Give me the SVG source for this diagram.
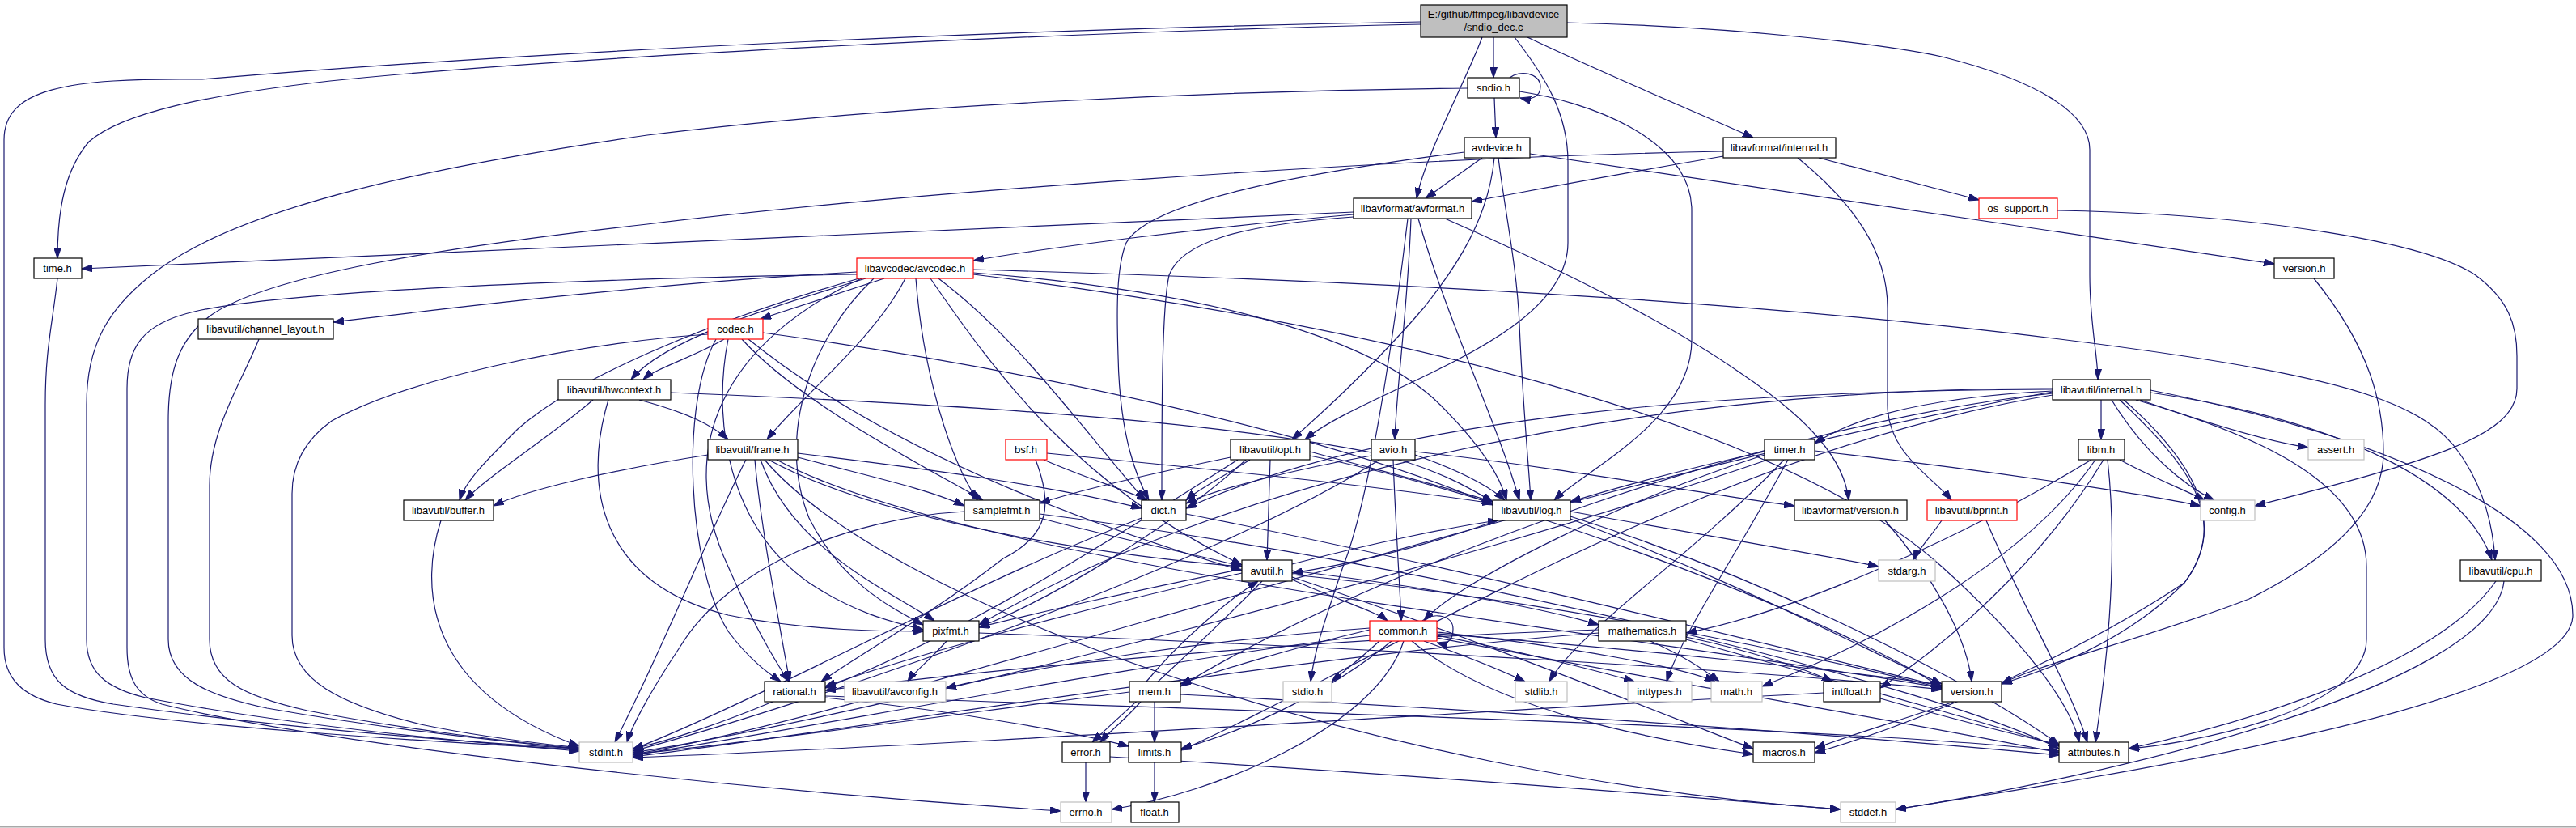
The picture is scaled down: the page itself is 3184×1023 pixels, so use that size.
<svg xmlns="http://www.w3.org/2000/svg" width="3184" height="1023" viewBox="0 0 3184 1023">
<style>
.n rect{fill:#fff;stroke:#000;stroke-width:1.2}
.r rect{stroke:#f00}
.g rect{stroke:#bfbfbf}
.m rect{fill:#bfbfbf}
text{font-family:"Liberation Sans",Arial,sans-serif;font-size:13px;text-anchor:middle;fill:#000}
#edges path{fill:none;stroke:#191970;stroke-width:1.2;marker-end:url(#a)}
</style>
<defs>
<marker id="a" viewBox="0 0 13 9" refX="13" refY="4.5" markerUnits="userSpaceOnUse" markerWidth="13" markerHeight="9" orient="auto">
<path d="M0,0 L13,4.5 L0,9 z" fill="#191970" stroke="#191970"/>
</marker>
</defs>
<rect x="0" y="0" width="3184" height="1023" fill="#fff"/>
<line x1="0" y1="1021.5" x2="3184" y2="1021.5" stroke="#a8a8a8" stroke-width="2"/>
<g id="edges">
<path d="M1846,46 L1846,96"/>
<path d="M1866,96 C1878,86 1904,90 1904,107 C1904,120 1892,124 1879,121"/>
<path d="M1832,46 C1812,100 1762,190 1751,245"/>
<path d="M1872,46 C1910,95 1938,140 1938,200 L1938,300 C1938,420 1690,480 1613,543"/>
<path d="M1888,46 C1980,90 2100,140 2167,170"/>
<path d="M1937,28 C2150,33 2330,55 2400,70 C2520,100 2583,140 2583,185 L2583,340 C2583,400 2593,440 2593,469"/>
<path d="M1756,30 C1300,40 700,70 408,100 C250,118 150,140 110,175 C80,210 71,260 71,319"/>
<path d="M1756,27 C1300,35 700,60 250,98 C80,96 5,110 5,173 L5,800 C5,840 30,860 70,870 C200,895 500,915 716,926"/>
<path d="M1847,121 L1849,170"/>
<path d="M1878,113 C1960,125 2091,170 2091,260 L2091,420 C2091,520 1960,580 1921,618"/>
<path d="M1814,109 C1500,112 1100,130 800,167 C500,210 300,260 200,330 C130,380 107,430 107,500 L107,790 C107,830 130,850 180,862 C350,895 550,915 716,928"/>
<path d="M1832,195 L1762,245"/>
<path d="M1891,190 L2811,326"/>
<path d="M1852,195 C1860,260 1875,330 1878,400 C1882,500 1890,580 1892,618"/>
<path d="M1847,195 C1840,270 1800,330 1760,380 C1700,450 1640,505 1597,543"/>
<path d="M1810,188 C1600,215 1420,250 1392,300 C1380,330 1380,380 1382,440 C1384,540 1405,590 1420,618"/>
<path d="M2130,193 C2000,215 1880,238 1819,249"/>
<path d="M2248,195 L2446,247"/>
<path d="M2222,195 C2290,250 2333,310 2333,380 L2333,500 C2333,560 2390,590 2412,618"/>
<path d="M2130,187 C1700,195 1100,240 800,277 C550,305 330,340 260,390 C220,420 208,460 208,520 L208,790 C208,840 260,860 330,875 C500,905 650,918 716,926"/>
<path d="M2543,260 C2800,265 3000,300 3060,340 C3100,370 3111,400 3111,440 L3111,480 C3111,540 3000,570 2787,625"/>
<path d="M2860,344 C2930,430 2946,500 2946,560 C2946,640 2860,700 2780,740 C2650,790 2520,820 2474,845"/>
<path d="M1673,262 C1300,275 800,298 101,332"/>
<path d="M1673,265 C1500,280 1300,305 1203,322"/>
<path d="M1673,268 C1530,278 1460,300 1445,340 C1436,380 1436,500 1436,618"/>
<path d="M1740,270 C1733,330 1700,600 1660,700 C1640,760 1625,800 1620,842"/>
<path d="M1744,270 C1740,380 1726,480 1724,543"/>
<path d="M1753,270 C1790,400 1850,520 1878,618"/>
<path d="M1786,270 C1900,320 2050,390 2150,460 C2240,520 2280,570 2285,618"/>
<path d="M71,344 C65,400 56,430 56,500 L56,790 C56,840 80,860 140,870 C350,900 550,915 716,925"/>
<path d="M320,419 C300,470 259,530 259,600 L259,790 C259,840 300,860 380,878 C520,905 650,918 716,925"/>
<path d="M1093,344 L940,394"/>
<path d="M1059,336 C800,350 520,385 412,398"/>
<path d="M1070,344 C950,380 820,420 780,469"/>
<path d="M1119,344 C1080,420 990,490 948,543"/>
<path d="M1062,344 C900,390 720,460 640,530 C600,570 575,595 568,618"/>
<path d="M1132,344 C1140,450 1170,560 1208,618"/>
<path d="M1160,344 C1260,420 1330,520 1415,618"/>
<path d="M1203,337 C1500,360 1700,420 1780,500 C1830,550 1855,590 1862,618"/>
<path d="M1150,344 C1230,460 1330,600 1535,698"/>
<path d="M1080,344 C1000,420 960,540 1000,640 C1040,720 1100,750 1141,772"/>
<path d="M1065,344 C900,420 830,550 900,700 C930,770 960,820 975,842"/>
<path d="M1203,339 C1700,400 2200,520 2400,700 C2500,790 2560,870 2570,917"/>
<path d="M1203,333 C1800,350 2300,380 2700,440 C2900,470 3000,500 3040,560 C3075,610 3082,660 3084,692"/>
<path d="M1059,339 C700,345 350,360 240,385 C175,400 157,430 157,480 L157,800 C157,840 170,860 200,870 C400,920 900,975 1311,1002"/>
<path d="M895,419 C860,440 810,455 795,469"/>
<path d="M943,411 C1300,460 1650,540 1845,624"/>
<path d="M875,413 C700,425 500,470 410,520 C375,545 361,575 361,610 L361,785 C361,840 420,870 520,895 C600,912 680,920 716,924"/>
<path d="M885,419 C840,500 850,700 900,780 C930,820 955,835 965,842"/>
<path d="M900,419 C880,520 900,650 1000,720 C1060,760 1110,770 1141,778"/>
<path d="M917,419 C990,500 1150,580 1215,618"/>
<path d="M925,419 C1100,560 1350,650 1535,705"/>
<path d="M733,494 C680,540 600,590 575,618"/>
<path d="M790,494 C850,510 880,525 900,543"/>
<path d="M829,485 C1200,500 1500,520 1700,560 C1780,580 1820,605 1845,620"/>
<path d="M752,494 C720,600 740,720 900,760 C1000,780 1100,780 1141,780"/>
<path d="M2597,494 L2597,543"/>
<path d="M2610,494 C2650,560 2700,600 2737,618"/>
<path d="M2645,494 C2720,520 2800,545 2853,553"/>
<path d="M2658,485 C2900,520 3050,600 3080,692"/>
<path d="M2658,482 C2950,540 3180,640 3180,760 C3180,870 2600,960 2343,1000"/>
<path d="M2640,494 C2800,540 2925,600 2925,700 L2925,790 C2925,880 2700,920 2631,925"/>
<path d="M2625,494 C2700,560 2760,640 2700,720 C2620,800 2520,830 2474,845"/>
<path d="M2620,494 C2700,570 2760,640 2700,720 C2550,820 2350,900 2243,930"/>
<path d="M2537,483 C2400,490 2300,510 2243,548"/>
<path d="M2537,481 C2100,482 1700,520 1466,628"/>
<path d="M2537,480 C2000,478 1500,600 1210,772"/>
<path d="M2537,486 C2200,520 1700,700 1459,848"/>
<path d="M2537,484 C1900,600 1100,880 782,932"/>
<path d="M2537,488 C2100,560 1700,820 1460,927"/>
<path d="M875,562 C760,580 650,605 610,625"/>
<path d="M922,568 C880,650 820,800 760,917"/>
<path d="M933,568 C940,650 965,780 976,842"/>
<path d="M940,568 C980,680 1100,730 1155,767"/>
<path d="M950,568 C1100,650 1400,690 1535,700"/>
<path d="M986,565 C1080,590 1150,605 1192,625"/>
<path d="M986,560 C1150,580 1300,600 1411,628"/>
<path d="M960,568 C1200,700 2000,780 2400,850"/>
<path d="M945,568 C1100,750 1700,960 2275,1000"/>
<path d="M1294,560 C1500,580 1700,600 1845,622"/>
<path d="M1290,568 C1340,590 1390,605 1418,618"/>
<path d="M1280,568 C1300,620 1300,660 1240,690 C1150,760 1060,810 1015,842"/>
<path d="M1521,565 C1400,590 1320,610 1285,622"/>
<path d="M1545,568 C1510,590 1480,605 1466,618"/>
<path d="M1530,568 C1400,650 1200,780 1020,850"/>
<path d="M1570,568 L1566,692"/>
<path d="M1540,568 C1450,650 1300,740 1210,775"/>
<path d="M1619,558 C1700,580 1800,605 1845,620"/>
<path d="M1619,563 C1900,620 2300,780 2400,850"/>
<path d="M1695,563 C1600,580 1500,605 1466,622"/>
<path d="M1749,562 C1800,580 1840,600 1860,618"/>
<path d="M1749,558 C1950,580 2100,610 2218,625"/>
<path d="M1722,568 C1725,650 1730,720 1732,767"/>
<path d="M1705,568 C1500,700 1000,870 782,928"/>
<path d="M2181,558 C2080,580 1990,605 1941,620"/>
<path d="M2243,557 C2450,580 2650,610 2720,625"/>
<path d="M2205,568 C2100,680 1950,780 1915,842"/>
<path d="M2210,568 C2150,680 2080,780 2060,842"/>
<path d="M2181,562 C2000,620 1800,720 1760,767"/>
<path d="M2185,568 C1800,700 1100,880 782,930"/>
<path d="M2620,568 C2660,590 2700,605 2725,618"/>
<path d="M2590,568 C2500,700 2300,800 2178,848"/>
<path d="M2585,568 C2400,680 2200,760 2084,782"/>
<path d="M2600,568 C2520,700 2400,800 2324,850"/>
<path d="M2605,568 C2620,700 2600,850 2590,917"/>
<path d="M545,643 C520,720 520,850 716,922"/>
<path d="M1192,632 C1050,640 900,700 840,800 C800,860 780,900 775,917"/>
<path d="M1285,640 C1400,670 1500,690 1535,700"/>
<path d="M1285,635 C1800,700 2400,850 2545,925"/>
<path d="M1411,640 C1200,720 950,860 782,926"/>
<path d="M1466,635 C1800,700 2200,800 2400,848"/>
<path d="M1941,632 C2100,660 2250,685 2322,700"/>
<path d="M1850,643 C1750,680 1650,700 1597,708"/>
<path d="M1597,697 C1700,670 1800,650 1852,643"/>
<path d="M1941,638 C2200,720 2450,850 2545,920"/>
<path d="M1941,641 C2150,720 2300,800 2400,845"/>
<path d="M2330,643 C2380,700 2430,780 2437,842"/>
<path d="M2400,643 C2385,665 2370,680 2365,692"/>
<path d="M2455,643 C2500,750 2560,850 2580,917"/>
<path d="M1535,703 C1400,730 1270,760 1210,775"/>
<path d="M1535,708 C1300,760 1100,820 1020,848"/>
<path d="M1597,716 C1650,740 1700,755 1715,767"/>
<path d="M1560,718 C1480,800 1400,870 1350,917"/>
<path d="M1597,710 C1900,740 2200,800 2400,850"/>
<path d="M1597,713 C1800,780 2050,880 2167,925"/>
<path d="M1597,705 C1800,730 1920,755 1976,772"/>
<path d="M3085,718 C3000,840 2700,910 2631,925"/>
<path d="M3095,718 C3080,850 2600,960 2343,1000"/>
<path d="M1170,792 C1150,815 1130,830 1122,842"/>
<path d="M1210,782 C1700,800 2200,830 2400,852"/>
<path d="M1758,767 C1772,756 1796,760 1796,777 C1796,792 1788,797 1776,794"/>
<path d="M1705,792 C1680,815 1660,830 1646,842"/>
<path d="M1760,792 C1810,810 1860,830 1885,842"/>
<path d="M1776,785 C1880,805 1980,830 2020,842"/>
<path d="M1776,781 C1950,800 2080,825 2120,842"/>
<path d="M1720,792 C1650,850 1550,900 1460,925"/>
<path d="M1735,792 C1700,900 1500,980 1374,1000"/>
<path d="M1693,785 C1400,820 1000,900 782,933"/>
<path d="M1776,788 C2100,850 2400,900 2545,930"/>
<path d="M1745,792 C1850,880 2050,915 2167,932"/>
<path d="M1776,783 C2000,800 2300,830 2400,847"/>
<path d="M1693,778 C1600,800 1500,830 1459,845"/>
<path d="M1693,776 C1500,790 1300,820 1169,850"/>
<path d="M2040,792 C2080,810 2110,830 2125,842"/>
<path d="M2084,787 C2170,805 2240,830 2265,842"/>
<path d="M2084,790 C2300,850 2480,900 2545,922"/>
<path d="M1976,778 C1600,790 1200,830 1020,853"/>
<path d="M1976,782 C1600,810 1000,910 782,935"/>
<path d="M955,867 C900,890 830,915 782,925"/>
<path d="M1020,862 C1200,880 1350,910 1395,922"/>
<path d="M1020,860 C1600,880 2300,900 2545,928"/>
<path d="M1427,867 L1427,917"/>
<path d="M1410,867 C1390,890 1370,905 1360,917"/>
<path d="M1417,842 C1460,790 1520,740 1555,718"/>
<path d="M1396,855 C1200,880 950,915 782,932"/>
<path d="M1459,858 C1900,880 2300,910 2545,933"/>
<path d="M2254,856 C1800,880 1200,920 782,936"/>
<path d="M2324,863 C2420,890 2500,910 2545,920"/>
<path d="M2415,867 C2350,890 2280,910 2243,925"/>
<path d="M1342,942 L1342,991"/>
<path d="M1372,935 C1800,960 2150,990 2275,1000"/>
<path d="M1427,942 L1427,991"/>
</g>
<g id="n_main" class="n m"><rect x="1756" y="6" width="181" height="40"/><text x="1846" y="22">E:/github/ffmpeg/libavdevice</text><text x="1846" y="38">/sndio_dec.c</text></g>
<g id="n_sndio" class="n"><rect x="1814" y="96" width="64" height="25"/><text x="1846" y="113">sndio.h</text></g>
<g id="n_avdevice" class="n"><rect x="1810" y="170" width="81" height="25"/><text x="1850" y="187">avdevice.h</text></g>
<g id="n_lavf_internal" class="n"><rect x="2130" y="170" width="139" height="25"/><text x="2199" y="187">libavformat/internal.h</text></g>
<g id="n_avformat" class="n"><rect x="1673" y="245" width="146" height="25"/><text x="1746" y="262">libavformat/avformat.h</text></g>
<g id="n_os_support" class="n r"><rect x="2446" y="245" width="97" height="25"/><text x="2494" y="262">os_support.h</text></g>
<g id="n_time" class="n"><rect x="42" y="319" width="59" height="25"/><text x="71" y="336">time.h</text></g>
<g id="n_avcodec" class="n r"><rect x="1059" y="319" width="144" height="25"/><text x="1131" y="336">libavcodec/avcodec.h</text></g>
<g id="n_version_top" class="n"><rect x="2811" y="319" width="74" height="25"/><text x="2848" y="336">version.h</text></g>
<g id="n_channel_layout" class="n"><rect x="245" y="394" width="167" height="25"/><text x="328" y="411">libavutil/channel_layout.h</text></g>
<g id="n_codec" class="n r"><rect x="875" y="394" width="68" height="25"/><text x="909" y="411">codec.h</text></g>
<g id="n_hwcontext" class="n"><rect x="690" y="469" width="139" height="25"/><text x="759" y="486">libavutil/hwcontext.h</text></g>
<g id="n_lavu_internal" class="n"><rect x="2537" y="469" width="121" height="25"/><text x="2597" y="486">libavutil/internal.h</text></g>
<g id="n_frame" class="n"><rect x="875" y="543" width="111" height="25"/><text x="930" y="560">libavutil/frame.h</text></g>
<g id="n_bsf" class="n r"><rect x="1243" y="543" width="51" height="25"/><text x="1268" y="560">bsf.h</text></g>
<g id="n_opt" class="n"><rect x="1521" y="543" width="98" height="25"/><text x="1570" y="560">libavutil/opt.h</text></g>
<g id="n_avio" class="n"><rect x="1695" y="543" width="54" height="25"/><text x="1722" y="560">avio.h</text></g>
<g id="n_timer" class="n"><rect x="2181" y="543" width="62" height="25"/><text x="2212" y="560">timer.h</text></g>
<g id="n_libm" class="n"><rect x="2569" y="543" width="57" height="25"/><text x="2597" y="560">libm.h</text></g>
<g id="n_assert" class="n g"><rect x="2853" y="543" width="69" height="25"/><text x="2887" y="560">assert.h</text></g>
<g id="n_buffer" class="n"><rect x="499" y="618" width="111" height="25"/><text x="554" y="635">libavutil/buffer.h</text></g>
<g id="n_samplefmt" class="n"><rect x="1192" y="618" width="93" height="25"/><text x="1238" y="635">samplefmt.h</text></g>
<g id="n_dict" class="n"><rect x="1411" y="618" width="55" height="25"/><text x="1438" y="635">dict.h</text></g>
<g id="n_log" class="n"><rect x="1845" y="618" width="96" height="25"/><text x="1893" y="635">libavutil/log.h</text></g>
<g id="n_lavf_version" class="n"><rect x="2218" y="618" width="139" height="25"/><text x="2287" y="635">libavformat/version.h</text></g>
<g id="n_bprint" class="n r"><rect x="2382" y="618" width="111" height="25"/><text x="2437" y="635">libavutil/bprint.h</text></g>
<g id="n_config" class="n g"><rect x="2720" y="618" width="67" height="25"/><text x="2753" y="635">config.h</text></g>
<g id="n_avutil" class="n"><rect x="1535" y="692" width="62" height="26"/><text x="1566" y="710">avutil.h</text></g>
<g id="n_stdarg" class="n g"><rect x="2322" y="692" width="70" height="26"/><text x="2357" y="710">stdarg.h</text></g>
<g id="n_cpu" class="n"><rect x="3041" y="692" width="100" height="26"/><text x="3091" y="710">libavutil/cpu.h</text></g>
<g id="n_pixfmt" class="n"><rect x="1141" y="767" width="69" height="25"/><text x="1175" y="784">pixfmt.h</text></g>
<g id="n_common" class="n r"><rect x="1693" y="767" width="83" height="25"/><text x="1734" y="784">common.h</text></g>
<g id="n_mathematics" class="n"><rect x="1976" y="767" width="108" height="25"/><text x="2030" y="784">mathematics.h</text></g>
<g id="n_rational" class="n"><rect x="945" y="842" width="75" height="25"/><text x="982" y="859">rational.h</text></g>
<g id="n_avconfig" class="n g"><rect x="1044" y="842" width="125" height="25"/><text x="1106" y="859">libavutil/avconfig.h</text></g>
<g id="n_mem" class="n"><rect x="1396" y="842" width="63" height="25"/><text x="1427" y="859">mem.h</text></g>
<g id="n_stdio" class="n g"><rect x="1586" y="842" width="60" height="25"/><text x="1616" y="859">stdio.h</text></g>
<g id="n_stdlib" class="n g"><rect x="1873" y="842" width="64" height="25"/><text x="1905" y="859">stdlib.h</text></g>
<g id="n_inttypes" class="n g"><rect x="2012" y="842" width="79" height="25"/><text x="2051" y="859">inttypes.h</text></g>
<g id="n_math" class="n g"><rect x="2115" y="842" width="63" height="25"/><text x="2146" y="859">math.h</text></g>
<g id="n_intfloat" class="n"><rect x="2254" y="842" width="70" height="25"/><text x="2289" y="859">intfloat.h</text></g>
<g id="n_version_bot" class="n"><rect x="2400" y="842" width="74" height="25"/><text x="2437" y="859">version.h</text></g>
<g id="n_stdint" class="n g"><rect x="716" y="917" width="66" height="25"/><text x="749" y="934">stdint.h</text></g>
<g id="n_error" class="n"><rect x="1313" y="917" width="59" height="25"/><text x="1342" y="934">error.h</text></g>
<g id="n_limits" class="n"><rect x="1395" y="917" width="65" height="25"/><text x="1427" y="934">limits.h</text></g>
<g id="n_macros" class="n"><rect x="2167" y="917" width="76" height="25"/><text x="2205" y="934">macros.h</text></g>
<g id="n_attributes" class="n"><rect x="2545" y="917" width="86" height="25"/><text x="2588" y="934">attributes.h</text></g>
<g id="n_errno" class="n g"><rect x="1311" y="991" width="63" height="25"/><text x="1342" y="1008">errno.h</text></g>
<g id="n_float" class="n"><rect x="1398" y="991" width="59" height="25"/><text x="1427" y="1008">float.h</text></g>
<g id="n_stddef" class="n g"><rect x="2275" y="991" width="68" height="25"/><text x="2309" y="1008">stddef.h</text></g>
</svg>
